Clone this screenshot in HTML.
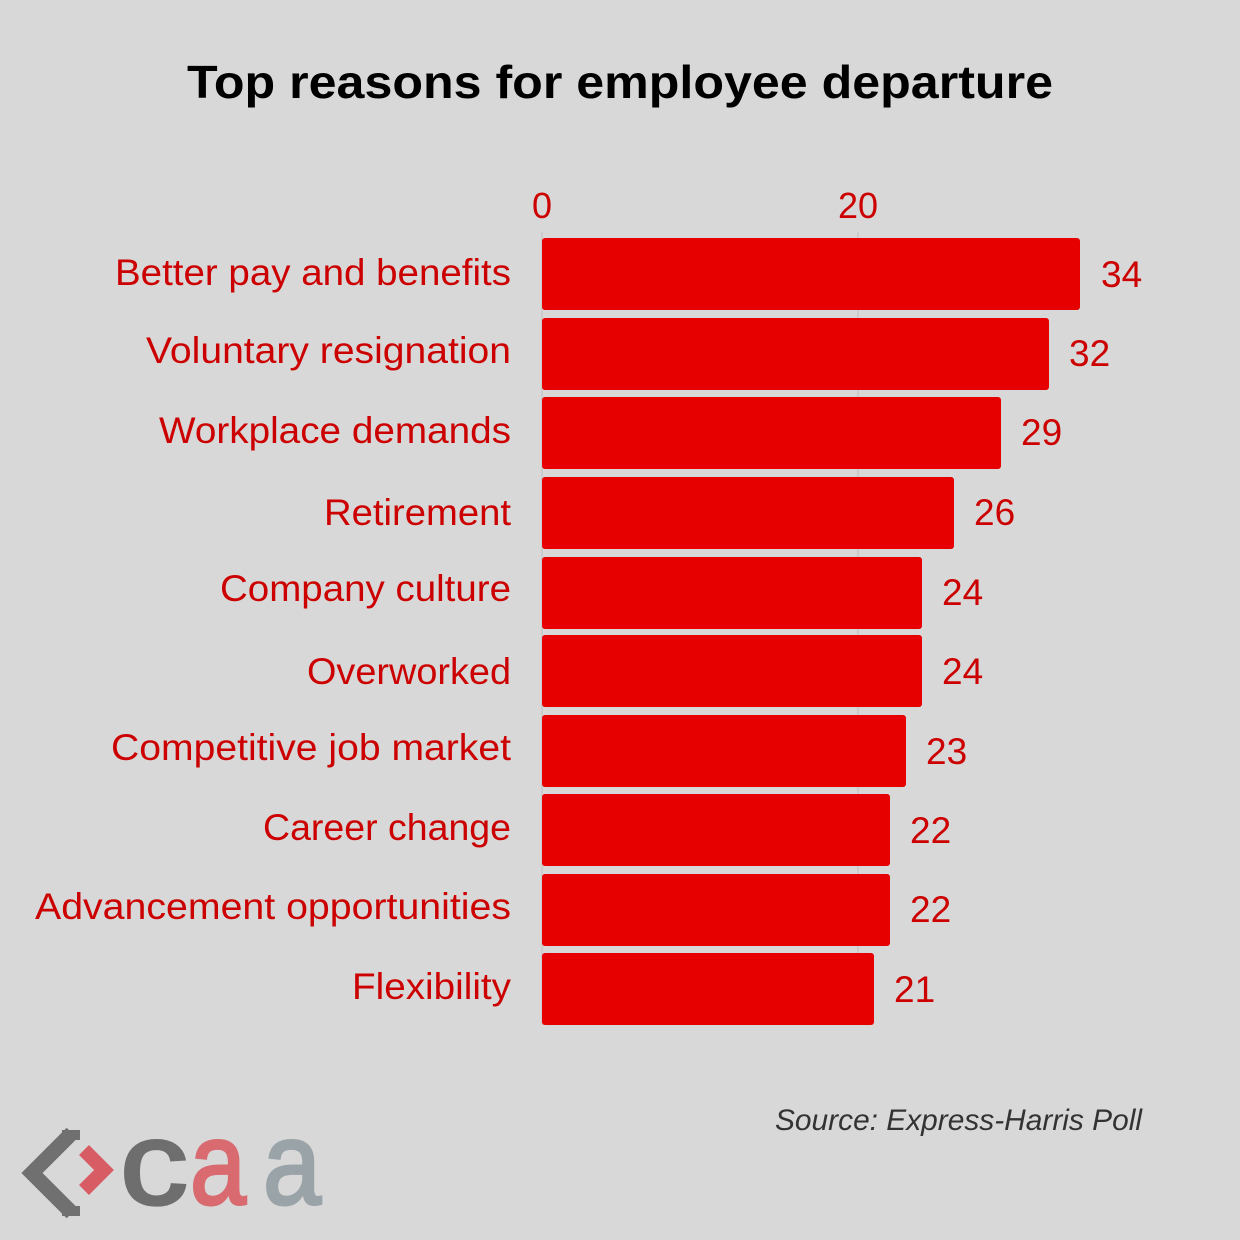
<!DOCTYPE html>
<html><head><meta charset="utf-8"><style>
html,body{margin:0;padding:0;background:#d8d8d8;}
svg{display:block;}
text{font-family:"Liberation Sans",sans-serif;}
</style></head><body>
<svg width="1240" height="1240" viewBox="0 0 1240 1240">
<rect width="1240" height="1240" fill="#d8d8d8"/>
<text x="620" y="98" text-anchor="middle" font-size="46" font-weight="bold" fill="#000" textLength="866" lengthAdjust="spacingAndGlyphs">Top reasons for employee departure</text>
<line x1="858" y1="232" x2="858" y2="1025" stroke="#c8c8c8" stroke-width="1.5"/>
<line x1="542" y1="232" x2="542" y2="1025" stroke="#c8c8c8" stroke-width="1.5"/>
<g font-size="36" fill="#cc0000" text-anchor="middle">
<text x="542" y="218">0</text><text x="858" y="218">20</text>
</g>
<g fill="#e60000">
<rect x="542" y="238" width="538" height="72" rx="3"/>
<rect x="542" y="318" width="507" height="72" rx="3"/>
<rect x="542" y="397" width="459" height="72" rx="3"/>
<rect x="542" y="477" width="412" height="72" rx="3"/>
<rect x="542" y="557" width="380" height="72" rx="3"/>
<rect x="542" y="635" width="380" height="72" rx="3"/>
<rect x="542" y="715" width="364" height="72" rx="3"/>
<rect x="542" y="794" width="348" height="72" rx="3"/>
<rect x="542" y="874" width="348" height="72" rx="3"/>
<rect x="542" y="953" width="332" height="72" rx="3"/>
</g>
<g font-size="37" fill="#cc0000" text-anchor="end">
<text x="511" y="285" textLength="396" lengthAdjust="spacingAndGlyphs">Better pay and benefits</text>
<text x="511" y="363" textLength="365" lengthAdjust="spacingAndGlyphs">Voluntary resignation</text>
<text x="511" y="443" textLength="352" lengthAdjust="spacingAndGlyphs">Workplace demands</text>
<text x="511" y="525" textLength="187" lengthAdjust="spacingAndGlyphs">Retirement</text>
<text x="511" y="601" textLength="291" lengthAdjust="spacingAndGlyphs">Company culture</text>
<text x="511" y="684" textLength="204" lengthAdjust="spacingAndGlyphs">Overworked</text>
<text x="511" y="760" textLength="400" lengthAdjust="spacingAndGlyphs">Competitive job market</text>
<text x="511" y="840" textLength="248" lengthAdjust="spacingAndGlyphs">Career change</text>
<text x="511" y="919" textLength="476" lengthAdjust="spacingAndGlyphs">Advancement opportunities</text>
<text x="511" y="999" textLength="159" lengthAdjust="spacingAndGlyphs">Flexibility</text>
</g>
<g font-size="37" fill="#cc0000">
<text x="1101" y="287">34</text>
<text x="1069" y="366">32</text>
<text x="1021" y="445">29</text>
<text x="974" y="525">26</text>
<text x="942" y="605">24</text>
<text x="942" y="684">24</text>
<text x="926" y="764">23</text>
<text x="910" y="843">22</text>
<text x="910" y="922">22</text>
<text x="894" y="1002">21</text>
</g>
<text x="1142" y="1130" text-anchor="end" font-size="30" font-style="italic" fill="#333" textLength="367" lengthAdjust="spacingAndGlyphs">Source: Express-Harris Poll</text>
<polyline points="72,1133 32,1173 72,1213" fill="none" stroke="#707070" stroke-width="15"/>
<line x1="62" y1="1135" x2="80" y2="1135" stroke="#707070" stroke-width="10"/>
<line x1="62" y1="1211" x2="80" y2="1211" stroke="#707070" stroke-width="10"/>
<polyline points="84,1150 104,1170 84,1190" fill="none" stroke="#d85c64" stroke-width="14"/>
<text x="120" y="1204" font-size="118" fill="#6e6e6e" stroke="#6e6e6e" stroke-width="3" textLength="68" lengthAdjust="spacingAndGlyphs">c</text>
<text x="190" y="1204" font-size="118" fill="#d86a70" stroke="#d86a70" stroke-width="3" textLength="56" lengthAdjust="spacingAndGlyphs">a</text>
<text x="263" y="1204" font-size="118" fill="#9aa3a8" stroke="#9aa3a8" stroke-width="3" textLength="58" lengthAdjust="spacingAndGlyphs">a</text>
</svg>
</body></html>
